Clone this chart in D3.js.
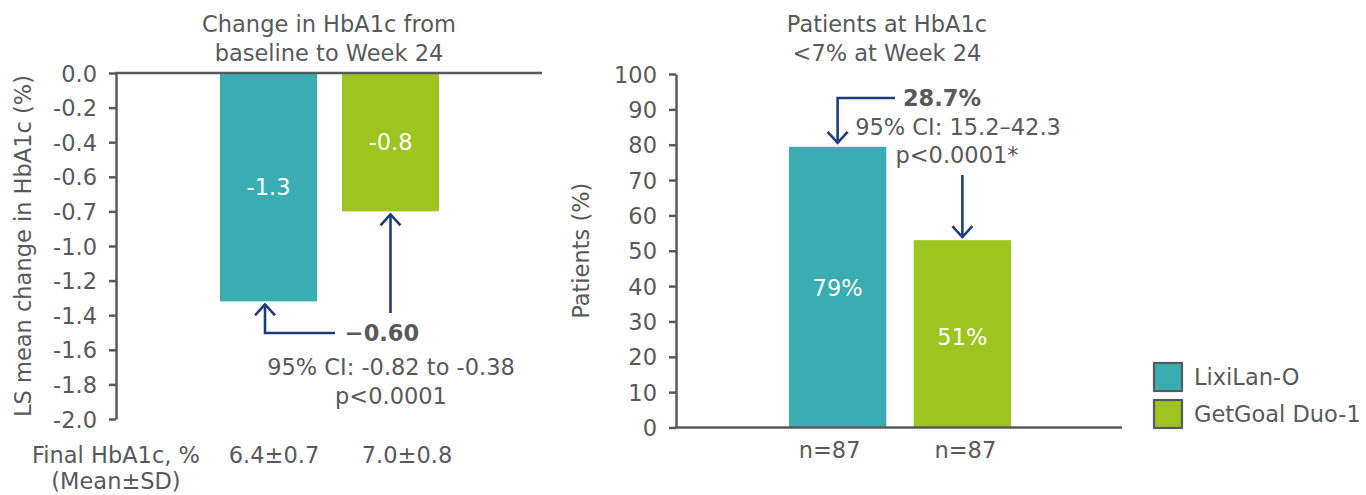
<!DOCTYPE html>
<html>
<head>
<meta charset="utf-8">
<script src="https://cdn.jsdelivr.net/npm/d3@7"></script>
<style>
  html, body { margin: 0; padding: 0; background: #fff; }
  svg { display: block; font-family: "DejaVu Sans", sans-serif; }
</style>
</head>
<body>
<svg id="chart" width="1366" height="495"></svg>
<script>
// ---------- data ----------
const categories = ["LixiLan-O", "GetGoal Duo-1"];
const seriesColors = ["#3aadb3", "#9dc41f"];

// left panel: LS mean change in HbA1c (%)
const changeValues = [-1.32, -0.80];
const changeLabels = ["-1.3", "-0.8"];
const finalHbA1c = ["6.4±0.7", "7.0±0.8"];
const leftTickValues = [0, -0.2, -0.4, -0.6, -0.8, -1.0, -1.2, -1.4, -1.6, -1.8, -2.0];
const leftTickLabels = ["0.0", "-0.2", "-0.4", "-0.6", "-0.7", "-1.0", "-1.2", "-1.4", "-1.6", "-1.8", "-2.0"];

// right panel: patients at HbA1c <7% (%)
const patientValues = [79.4, 53.0];
const patientLabels = ["79%", "51%"];
const nLabels = ["n=87", "n=87"];
const rightTickValues = [0, 10, 20, 30, 40, 50, 60, 70, 80, 90, 100];

// ---------- styles ----------
const FONT = "DejaVu Sans, sans-serif";
const TEXT = "#58595b";
const AXIS = "#58595b";
const NAVY = "#1f3d7c";
const FS = 22.5;

const svg = d3.select("#chart");

function txt(g, x, y, s, opts = {}) {
  return g.append("text")
    .attr("x", x).attr("y", y)
    .attr("text-anchor", opts.anchor || "middle")
    .attr("dominant-baseline", "central")
    .attr("font-family", FONT)
    .attr("font-size", opts.size || FS)
    .attr("font-weight", opts.weight || "normal")
    .attr("fill", opts.fill || TEXT)
    .text(s);
}

function chevron(g, x, apexY, dir) {
  // dir = -1 pointing up, +1 pointing down
  const h = 11 * -dir;
  g.append("path")
    .attr("d", `M${x - 10},${apexY + h} L${x},${apexY} L${x + 10},${apexY + h}`)
    .attr("fill", "none").attr("stroke", NAVY).attr("stroke-width", 2.6)
    .attr("stroke-linejoin", "miter");
}

// ================= LEFT PANEL =================
const L = svg.append("g");
const yL = d3.scaleLinear().domain([0, -2]).range([73, 419]);
const xL = d3.scaleBand().domain(categories).range([207.5, 451.5])
  .paddingInner(25 / 122).paddingOuter(12.5 / 122);
const axisXL = 116;

// bars
L.selectAll("rect.bar").data(categories).join("rect")
  .attr("x", d => xL(d))
  .attr("y", yL(0))
  .attr("width", xL.bandwidth())
  .attr("height", (d, i) => yL(changeValues[i]) - yL(0))
  .attr("fill", (d, i) => seriesColors[i]);

// bar value labels
categories.forEach((c, i) => {
  txt(L, xL(c) + xL.bandwidth() / 2, (yL(0) + yL(changeValues[i])) / 2, changeLabels[i], { fill: "#ffffff" });
});

// y axis
const axL = d3.axisLeft(yL).tickValues(leftTickValues)
  .tickFormat((d, i) => leftTickLabels[i]).tickSize(7).tickSizeOuter(0).tickPadding(12);
const gAxL = L.append("g").attr("transform", `translate(${axisXL},0)`).call(axL);
gAxL.select(".domain").attr("stroke", AXIS).attr("stroke-width", 2.5);
gAxL.selectAll(".tick line").attr("stroke", AXIS).attr("stroke-width", 2.5);
gAxL.selectAll(".tick text").attr("fill", TEXT).attr("font-size", FS)
  .attr("font-family", FONT).attr("dy", "0.36em");

// zero line
L.append("line").attr("x1", axisXL - 1).attr("x2", 542)
  .attr("y1", yL(0)).attr("y2", yL(0))
  .attr("stroke", AXIS).attr("stroke-width", 2.5);

// title
txt(L, 329, 24, "Change in HbA1c from");
txt(L, 329, 53, "baseline to Week 24");

// y axis title
L.append("text")
  .attr("transform", `translate(23,${(yL(0) + yL(-2)) / 2}) rotate(-90)`)
  .attr("text-anchor", "middle").attr("dominant-baseline", "central")
  .attr("font-family", FONT).attr("font-size", FS).attr("fill", TEXT)
  .text("LS mean change in HbA1c (%)");

// bottom rows
txt(L, 116, 455, "Final HbA1c, %");
txt(L, 116, 481, "(Mean±SD)");
const finalOffsets = [5.5, 16.5];
categories.forEach((c, i) => {
  txt(L, xL(c) + xL.bandwidth() / 2 + finalOffsets[i], 455, finalHbA1c[i]);
});

// arrows (left)
{
  const xa = xL(categories[0]) + xL.bandwidth() / 2 - 3.5;
  const apexA = yL(changeValues[0]) + 3;
  L.append("path").attr("d", `M335,333 H${xa} V${apexA}`)
    .attr("fill", "none").attr("stroke", NAVY).attr("stroke-width", 2.6);
  chevron(L, xa, apexA, -1);

  const xb = xL(categories[1]) + xL.bandwidth() / 2;
  const apexB = yL(changeValues[1]) + 3;
  L.append("path").attr("d", `M${xb},313 V${apexB}`)
    .attr("fill", "none").attr("stroke", NAVY).attr("stroke-width", 2.6);
  chevron(L, xb, apexB, -1);
}
txt(L, 382, 333, "\u22120.60", { weight: "bold" });
txt(L, 391, 367, "95% CI: -0.82 to -0.38");
txt(L, 391, 396, "p<0.0001");

// ================= RIGHT PANEL =================
const R = svg.append("g");
const yR = d3.scaleLinear().domain([0, 100]).range([427.5, 74]);
const xR = d3.scaleBand().domain(categories).range([775.25, 1024.75])
  .paddingInner(27.5 / 125).paddingOuter(13.75 / 125);
const axisXR = 676;

R.selectAll("rect.bar").data(categories).join("rect")
  .attr("x", d => xR(d))
  .attr("y", (d, i) => yR(patientValues[i]))
  .attr("width", xR.bandwidth())
  .attr("height", (d, i) => yR(0) - yR(patientValues[i]))
  .attr("fill", (d, i) => seriesColors[i]);

categories.forEach((c, i) => {
  txt(R, xR(c) + xR.bandwidth() / 2, (yR(0) + yR(patientValues[i])) / 2 + (i === 1 ? 3 : 1), patientLabels[i], { fill: "#ffffff" });
});

const axR = d3.axisLeft(yR).tickValues(rightTickValues)
  .tickSize(7).tickSizeOuter(0).tickPadding(12);
const gAxR = R.append("g").attr("transform", `translate(${axisXR},0)`).call(axR);
gAxR.select(".domain").attr("stroke", AXIS).attr("stroke-width", 2.5);
gAxR.selectAll(".tick line").attr("stroke", AXIS).attr("stroke-width", 2.5);
gAxR.selectAll(".tick text").attr("fill", TEXT).attr("font-size", FS)
  .attr("font-family", FONT).attr("dy", "0.36em");

// baseline
R.append("line").attr("x1", axisXR - 1).attr("x2", 1122)
  .attr("y1", yR(0)).attr("y2", yR(0))
  .attr("stroke", AXIS).attr("stroke-width", 2.5);

txt(R, 887, 24, "Patients at HbA1c");
txt(R, 887, 53, "<7% at Week 24");

R.append("text")
  .attr("transform", `translate(581,${(yR(0) + yR(100)) / 2}) rotate(-90)`)
  .attr("text-anchor", "middle").attr("dominant-baseline", "central")
  .attr("font-family", FONT).attr("font-size", FS).attr("fill", TEXT)
  .text("Patients (%)");

const nOffsets = [-8, 3];
categories.forEach((c, i) => {
  txt(R, xR(c) + xR.bandwidth() / 2 + nOffsets[i], 450, nLabels[i]);
});

// arrows (right)
{
  const xa = xR(categories[0]) + xR.bandwidth() / 2;
  const apexA = yR(patientValues[0]) - 4;
  R.append("path").attr("d", `M895,98 H${xa} V${apexA}`)
    .attr("fill", "none").attr("stroke", NAVY).attr("stroke-width", 2.6);
  chevron(R, xa, apexA, 1);

  const xb = xR(categories[1]) + xR.bandwidth() / 2;
  const apexB = yR(patientValues[1]) - 3;
  R.append("path").attr("d", `M${xb},175 V${apexB}`)
    .attr("fill", "none").attr("stroke", NAVY).attr("stroke-width", 2.6);
  chevron(R, xb, apexB, 1);
}
txt(R, 942, 98, "28.7%", { weight: "bold" });
txt(R, 958, 127, "95% CI: 15.2\u201342.3");
txt(R, 957, 155, "p<0.0001*");

// legend
const LG = svg.append("g");
categories.forEach((c, i) => {
  const y0 = 362 + i * 37;
  LG.append("rect").attr("x", 1154).attr("y", y0 + 1).attr("width", 28).attr("height", 28)
    .attr("fill", seriesColors[i]).attr("stroke", "#58595b").attr("stroke-width", 2.2);
  txt(LG, 1194, y0 + 15, c, { anchor: "start" });
});
</script>
</body>
</html>
